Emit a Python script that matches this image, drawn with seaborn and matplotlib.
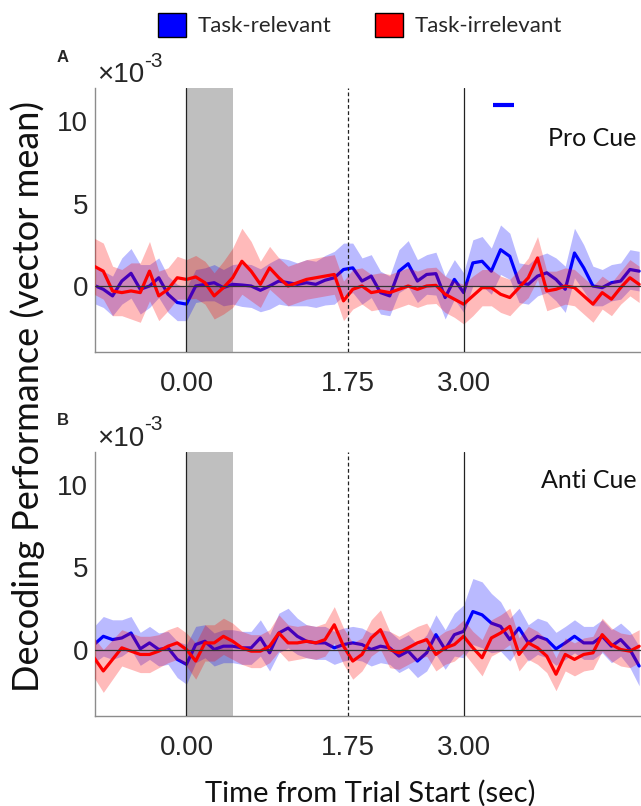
import numpy as np
import pandas as pd
import matplotlib
matplotlib.use('Agg')
from matplotlib import pyplot as plt
from matplotlib.patches import Patch
import seaborn as sns

# ====================== data (units of 1e-3) ======================
time = np.round(np.arange(-1.0, 4.95, 0.1), 1)

pro_rel = [0.04, -0.2, -0.6, 0.3, 0.77, -0.2, 0.0, 0.5, -0.5, -1.0,
           -1.1, 0.0, 0.1, 0.2, -0.1, 0.1, 0.06, 0.0, -0.26, 0.0,
           0.3, 0.2, 0.1, 0.2, 0.1, 0.35, 0.5, 1.0, 1.1, 0.3,
           0.6, -0.4, -0.6, 0.9, 1.35, 0.3, 0.7, 0.75, -0.7, 0.4,
           -0.4, 1.4, 1.5, 0.9, 2.2, 1.8, 0.2, 0.1, 0.6, 0.8,
           0.4, -0.2, 2.0, 1.1, 0.0, -0.1, 0.2, 0.3, 1.0, 0.9]
pro_irr = [1.2, 0.9, -0.3, -0.4, -0.3, -0.4, 0.9, -0.6, -0.2, 0.5,
           0.4, 0.55, 0.2, -0.6, -0.1, 0.5, 1.5, 0.9, 0.1, 1.1,
           0.5, 0.0, 0.2, 0.4, 0.5, 0.6, 0.7, -0.9, -0.2, 0.0,
           -0.4, -0.3, -0.4, -0.2, 0.0, -0.2, 0.0, 0.04, -0.5, -0.8,
           -1.1, -0.6, -0.1, -0.1, -0.5, -0.7, -0.1, 0.5, 1.7, -0.3,
           -0.2, 0.0, -0.1, -0.6, -1.1, -0.4, -0.8, -0.1, 0.5, 0.1]
anti_rel = [0.3, 0.8, 0.6, 0.7, 1.0, 0.04, 0.4, 0.0, 0.1, -0.6,
            -0.9, 0.3, 0.5, 0.0, 0.2, 0.2, 0.1, 0.1, 0.7, -0.2,
            1.0, 1.3, 0.8, 0.5, 0.4, 0.4, 0.1, 0.3, 0.4, 0.3,
            0.0, 0.2, 0.1, -0.4, -0.1, -0.7, -0.2, 0.9, 0.0, 0.9,
            1.1, 2.3, 2.1, 1.6, 1.4, 0.6, 1.3, 0.4, 0.8, 0.6,
            0.04, 0.4, 0.8, 0.4, 0.4, 0.8, 0.2, 0.6, 0.0, -1.0]
anti_irr = [-0.5, -1.3, -0.6, 0.1, -0.1, -0.3, -0.3, -0.1, 0.2, 0.4,
            0.0, -0.7, 0.4, 0.4, 0.8, 0.5, 0.1, -0.1, -0.1, 0.2,
            1.0, 0.4, 0.4, 0.5, 0.4, 0.6, 1.5, 0.2, -0.7, -0.3,
            0.7, 1.2, 0.0, -0.2, 0.1, 0.4, 0.6, -0.3, 0.1, 0.3,
            0.8, 0.1, -0.5, 0.7, 1.0, 1.4, -0.3, 0.4, 0.1, -0.4,
            -1.5, -0.3, -0.6, -0.3, -0.2, 0.9, 0.3, 0.0, -0.1, 0.2]

# half widths of the shaded error bands
pro_rel_err = [1.1, 1.1, 1.2, 1.4, 1.5, 1.5, 1.3, 1.2, 1.1, 1.1,
               1.0, 1.0, 1.0, 1.1, 1.1, 1.2, 1.3, 1.3, 1.3, 1.4,
               1.4, 1.4, 1.3, 1.4, 1.4, 1.5, 1.6, 1.6, 1.5, 1.4,
               1.3, 1.3, 1.2, 1.3, 1.4, 1.3, 1.2, 1.3, 1.3, 1.2,
               1.2, 1.4, 1.5, 1.4, 1.5, 1.4, 1.2, 1.2, 1.2, 1.2,
               1.3, 1.4, 1.5, 1.4, 1.2, 1.1, 1.1, 1.1, 1.2, 1.2]
pro_irr_err = [1.7, 1.7, 1.5, 1.4, 1.7, 1.8, 1.8, 1.5, 1.3, 1.3,
               1.2, 1.3, 1.3, 1.4, 1.6, 1.8, 2.0, 1.8, 1.4, 1.3,
               1.2, 1.2, 1.2, 1.2, 1.2, 1.2, 1.2, 1.2, 1.2, 1.1,
               1.1, 1.1, 1.1, 1.1, 1.1, 1.1, 1.1, 1.1, 1.1, 1.1,
               1.2, 1.2, 1.1, 1.1, 1.1, 1.1, 1.1, 1.2, 1.3, 1.2,
               1.1, 1.1, 1.1, 1.1, 1.1, 1.0, 1.0, 1.0, 1.1, 1.1]
anti_rel_err = [1.1, 1.2, 1.2, 1.1, 1.0, 1.0, 1.0, 1.0, 1.0, 1.1,
                1.2, 1.1, 1.0, 1.0, 1.0, 1.0, 1.0, 1.0, 1.1, 1.1,
                1.2, 1.2, 1.1, 1.0, 1.0, 1.0, 1.0, 1.0, 1.0, 1.0,
                1.0, 1.0, 1.0, 1.0, 1.0, 1.0, 1.1, 1.2, 1.2, 1.3,
                1.6, 2.0, 2.0, 1.8, 1.5, 1.3, 1.2, 1.1, 1.1, 1.1,
                1.0, 1.0, 1.0, 1.0, 1.0, 1.0, 1.0, 1.0, 1.1, 1.2]
anti_irr_err = [1.2, 1.3, 1.2, 1.1, 1.1, 1.1, 1.1, 1.0, 1.0, 1.0,
                1.0, 1.1, 1.1, 1.1, 1.1, 1.1, 1.0, 1.0, 1.0, 1.0,
                1.1, 1.1, 1.0, 1.0, 1.0, 1.0, 1.1, 1.1, 1.1, 1.0,
                1.1, 1.2, 1.1, 1.0, 1.0, 1.0, 1.0, 1.0, 1.0, 1.0,
                1.0, 1.0, 1.1, 1.1, 1.1, 1.1, 1.0, 1.0, 1.0, 1.0,
                1.0, 1.0, 1.0, 1.0, 1.0, 1.0, 1.0, 1.0, 1.0, 1.0]

sig_bar = [3.32, 3.54]   # significant window (Pro Cue, task-relevant)
sig_level = 11.0

event_times = [0.0, 1.75, 3.0]
yticks = [0, 5, 10]

# ====================== style ======================
sns.set_style('white')
plt.rcParams['font.family'] = ['Lato', 'DejaVu Sans']

BLUE = '#0000ff'
RED = '#ff0000'
W, H = 641, 806

fig = plt.figure(figsize=(W / 100, H / 100), dpi=100)


def fx(px):
    return px / W


def fy(py):
    return 1 - py / H


panels = [
    ('A', 'Pro Cue', pro_rel, pro_rel_err, pro_irr, pro_irr_err, 88, 8.5),
    ('B', 'Anti Cue', anti_rel, anti_rel_err, anti_irr, anti_irr_err, 451.5, 9.8),
]

for letter, name, rel, rel_err, irr, irr_err, top, name_y in panels:
    ax = fig.add_axes([fx(95), fy(top + 264), fx(641 - 95), 264 / H])
    df = pd.DataFrame({'time': time, 'rel': rel, 'irr': irr,
                       'rel_err': rel_err, 'irr_err': irr_err})

    ax.axvspan(0, 0.5, color='#bfbfbf', lw=0, zorder=0)

    ax.fill_between(df['time'], df['rel'] - df['rel_err'], df['rel'] + df['rel_err'],
                    color=BLUE, alpha=0.27, lw=0, zorder=1)
    sns.lineplot(data=df, x='time', y='rel', color=BLUE, lw=2.3, ax=ax, zorder=2)
    ax.fill_between(df['time'], df['irr'] - df['irr_err'], df['irr'] + df['irr_err'],
                    color=RED, alpha=0.27, lw=0, zorder=3)
    sns.lineplot(data=df, x='time', y='irr', color=RED, lw=2.3, ax=ax, zorder=4)
    for ln in ax.lines:
        ln.set_solid_joinstyle('round')

    ax.axhline(0, color='#333333', lw=0.9, zorder=5)
    ax.axvline(event_times[0], color='#222222', lw=0.9, zorder=5)
    ax.axvline(event_times[1], color='#222222', lw=0.9, ls=(0, (3, 2)), zorder=5)
    ax.axvline(event_times[2], color='#222222', lw=0.9, zorder=5)

    if letter == 'A':
        ax.plot(sig_bar, [sig_level, sig_level], color=BLUE, lw=3, solid_capstyle='butt')

    ax.set_xlim(-0.99, 4.92)
    ax.set_ylim(-4, 12)
    ax.set_xticks(event_times)
    ax.set_xticklabels(['%.2f' % t for t in event_times])
    ax.set_yticks(yticks)
    ax.set_xlabel('')
    ax.set_ylabel('')
    for lab in ax.get_xticklabels() + ax.get_yticklabels():
        lab.set_fontfamily('Liberation Sans')
        lab.set_fontsize(20)
        lab.set_color('#262626')
    ax.tick_params(axis='x', length=0, pad=14)
    ax.tick_params(axis='y', direction='in', length=4, width=0.8, color='#808080', pad=5)

    sns.despine(ax=ax, top=True, right=True)
    for s in ['left', 'bottom']:
        ax.spines[s].set_color('#8c8c8c')
        ax.spines[s].set_linewidth(1.0)

    ax.text(4.87, name_y, name, ha='right', va='baseline', fontsize=18, color='#111111')

    # panel letter and exponent
    fig.text(fx(57), fy(top - 26), letter, fontsize=12, fontweight='bold',
             family='Liberation Sans', va='baseline')
    fig.text(fx(97), fy(top - 6), '\u00d710', fontsize=20, family='Liberation Sans',
             va='baseline', color='#262626')
    fig.text(fx(144), fy(top - 21), '-3', fontsize=15, family='Liberation Sans',
             va='baseline', color='#262626')

fig.text(fx(370), fy(802), 'Time from Trial Start (sec)', ha='center', va='baseline',
         fontsize=21, color='#111111')
fig.text(fx(28), fy(396), 'Decoding Performance (vector mean)', ha='center', va='center',
         rotation=90, fontsize=26, color='#111111')

handles = [Patch(facecolor=BLUE, edgecolor='black', lw=1),
           Patch(facecolor=RED, edgecolor='black', lw=1)]
fig.legend(handles, ['Task-relevant', 'Task-irrelevant'], loc='center',
           bbox_to_anchor=(fx(360), fy(25)), ncol=2, frameon=False, fontsize=16,
           handlelength=1.25, handleheight=1.3, handletextpad=0.5, columnspacing=2.0)

plt.savefig('out.png', dpi=100)
